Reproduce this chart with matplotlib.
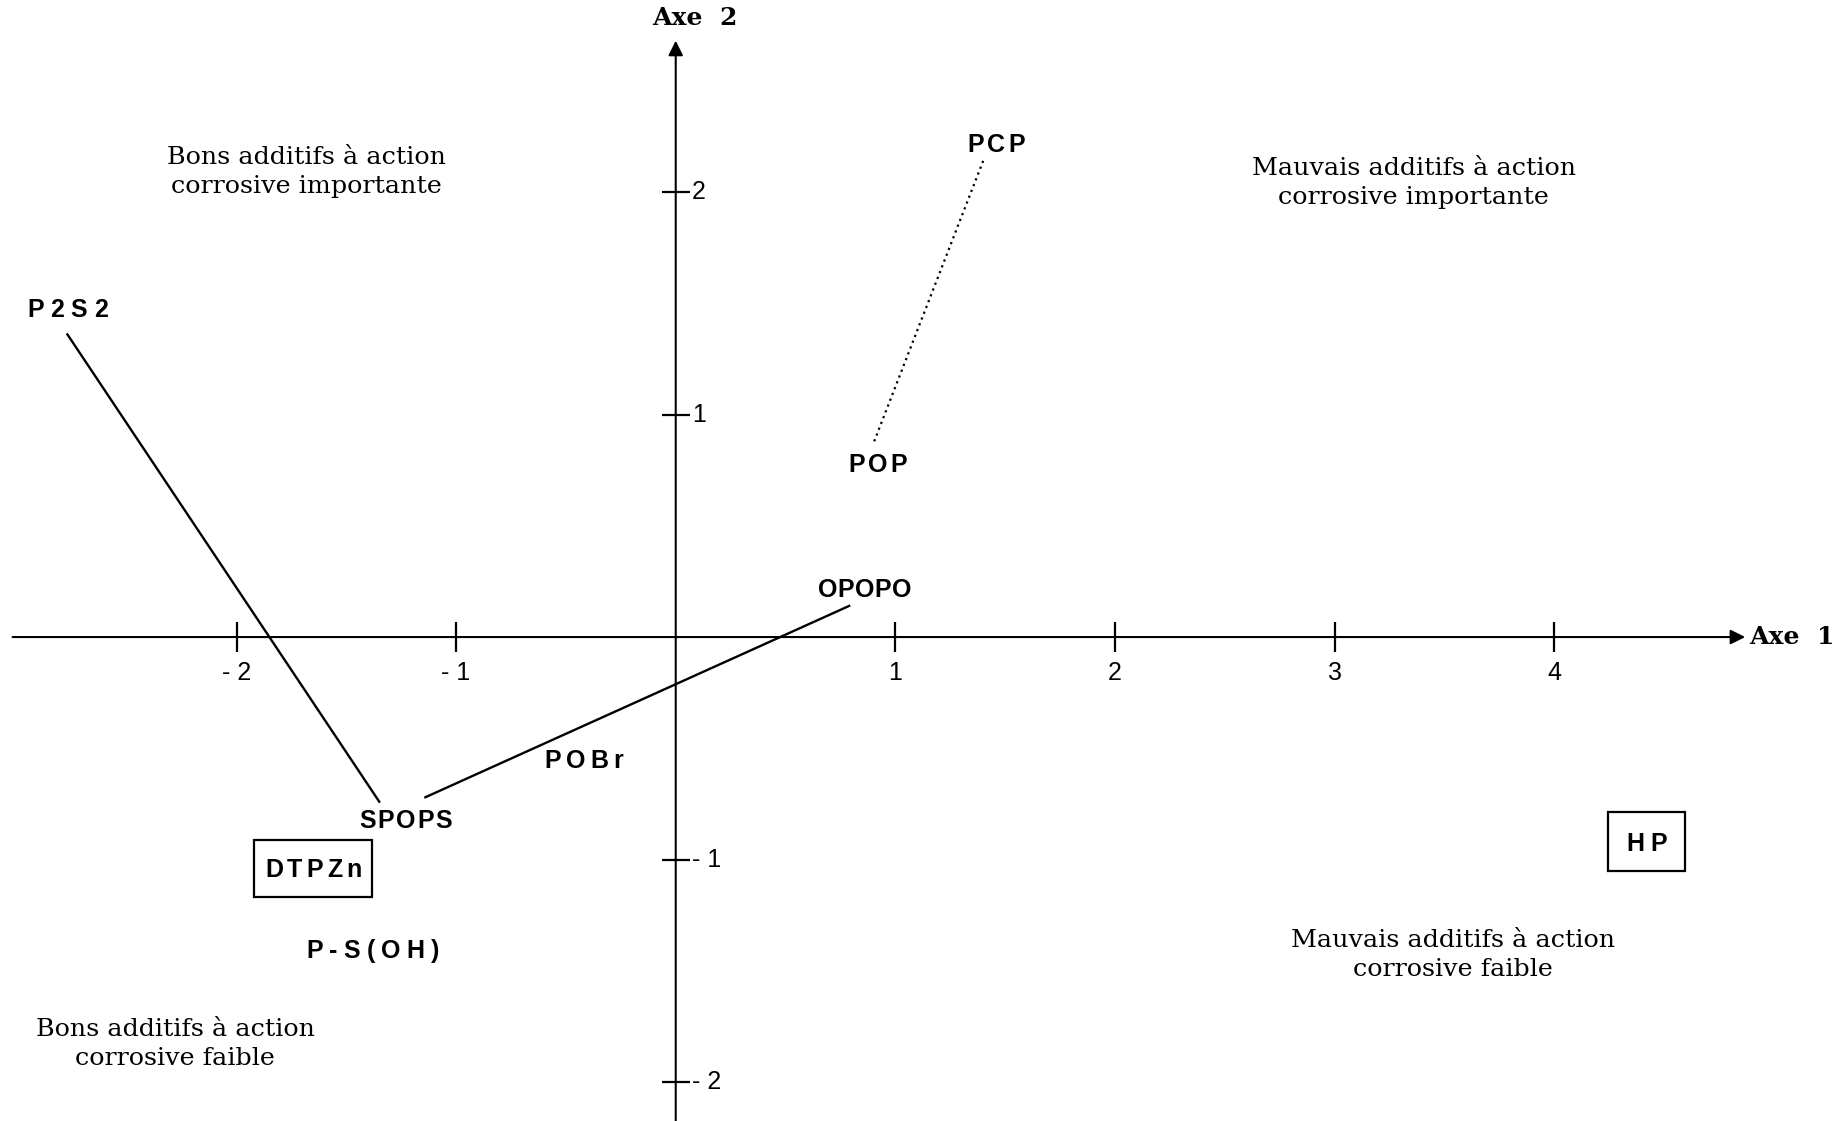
import matplotlib
matplotlib.use("Agg")
import matplotlib.pyplot as plt
from matplotlib.patches import Rectangle
from matplotlib.font_manager import FontProperties
from matplotlib.textpath import TextToPath
from matplotlib.transforms import offset_copy

# ---------------- data ----------------
point_names = ["PCP", "POP", "P2S2", "SPOPS", "OPOPO", "POBr", "DTPZn", "P-S(OH)", "HP"]
point_x = [1.46, 0.92, -2.77, -1.23, 0.86, -0.42, -1.65, -1.38, 4.42]
point_y = [2.22, 0.78, 1.48, -0.82, 0.22, -0.55, -1.04, -1.40, -0.92]
boxed = ["DTPZn", "HP"]

# connecting segments (x0, x1), (y0, y1)
seg_solid_1_x = [-2.77, -1.35]
seg_solid_1_y = [1.36, -0.74]
seg_solid_2_x = [-1.14, 0.79]
seg_solid_2_y = [-0.72, 0.14]
seg_dotted_x = [1.40, 0.90]
seg_dotted_y = [2.14, 0.87]

x_ticks = [-2, -1, 1, 2, 3, 4]
x_tick_labels = ["- 2", "- 1", "1", "2", "3", "4"]
y_ticks = [2, 1, -1, -2]
y_tick_labels = ["2", "1", "- 1", "- 2"]

quadrant_texts = [
    "Bons additifs à action\ncorrosive importante",
    "Mauvais additifs à action\ncorrosive importante",
    "Mauvais additifs à action\ncorrosive faible",
    "Bons additifs à action\ncorrosive faible",
]
quadrant_x = [-1.68, 3.36, 3.54, -2.28]
quadrant_y = [2.09, 2.04, -1.43, -1.83]

# ---------------- styles (pixel sizes) ----------------
label_width_px = {"PCP": 58, "POP": 58, "P2S2": 81, "SPOPS": 93, "OPOPO": 93,
                  "POBr": 78, "DTPZn": 97, "P-S(OH)": 133, "HP": 41}
box_size_px = {"DTPZn": (118, 57), "HP": (77, 59)}

DPI = 100
W_PX, H_PX = 1846, 1121
XLIM = (-3.077, 5.329)
YLIM = (-2.175, 2.863)

fig = plt.figure(figsize=(W_PX / DPI, H_PX / DPI), dpi=DPI)
ax = fig.add_axes([0, 0, 1, 1])
ax.set_xlim(*XLIM)
ax.set_ylim(*YLIM)
ax.axis("off")

lw_axis = 1.5
ax.annotate("", xy=(4.87, 0), xytext=(-3.02, 0),
            arrowprops=dict(arrowstyle="-|>", lw=lw_axis, color="black",
                            mutation_scale=22, shrinkA=0, shrinkB=0))
ax.annotate("", xy=(0, 2.68), xytext=(0, -2.3),
            arrowprops=dict(arrowstyle="-|>", lw=lw_axis, color="black",
                            mutation_scale=22, shrinkA=0, shrinkB=0))

ax.plot(x_ticks, [0] * len(x_ticks), linestyle="none", marker="|",
        markersize=22, markeredgewidth=1.6, color="black")
ax.plot([0] * len(y_ticks), y_ticks, linestyle="none", marker="_",
        markersize=20, markeredgewidth=1.6, color="black")

tick_font = dict(family="Liberation Sans", fontsize=18, color="black")
for t, lab in zip(x_ticks, x_tick_labels):
    ax.text(t, -0.16, lab, ha="center", va="center", **tick_font)
for t, lab in zip(y_ticks, y_tick_labels):
    ax.text(0.075, t, lab, ha="left", va="center", **tick_font)

axe_font = dict(family="DejaVu Serif", fontweight="bold", fontsize=18, color="black")
ax.text(0.085, 2.78, "Axe  2", ha="center", va="center", **axe_font)
ax.text(4.89, 0.0, "Axe  1", ha="left", va="center", **axe_font)

ax.plot(seg_solid_1_x, seg_solid_1_y, color="black", lw=1.7)
ax.plot(seg_solid_2_x, seg_solid_2_y, color="black", lw=1.7)
ax.plot(seg_dotted_x, seg_dotted_y, color="black", lw=1.6, linestyle=(0, (1, 1.8)))

# tracked bold labels, drawn character by character
label_fs = 18
prop = FontProperties(family="Liberation Sans", weight="bold", size=label_fs)
t2p = TextToPath()
px_per_pt = DPI / 72.0


def char_width_px(ch):
    w, h, d = t2p.get_text_width_height_descent(ch, prop, ismath=False)
    return w * px_per_pt


def tracked_text(x, y, s, target_px):
    widths = [char_width_px(c) for c in s]
    gap = (target_px - sum(widths)) / max(len(s) - 1, 1)
    pos = -target_px / 2.0
    baseline_dy_pt = -0.358 * label_fs
    for c, w in zip(s, widths):
        tr = offset_copy(ax.transData, fig=fig, x=pos / px_per_pt,
                         y=baseline_dy_pt, units="points")
        ax.text(x, y, c, ha="left", va="baseline", fontproperties=prop,
                color="black", transform=tr)
        pos += w + gap


ppx = W_PX / (XLIM[1] - XLIM[0])
ppy = H_PX / (YLIM[1] - YLIM[0])
for name, x, y in zip(point_names, point_x, point_y):
    tracked_text(x, y, name, label_width_px[name])
    if name in boxed:
        bw, bh = box_size_px[name]
        ax.add_patch(Rectangle((x - bw / 2 / ppx, y - bh / 2 / ppy), bw / ppx, bh / ppy,
                               fill=False, ec="black", lw=1.6))

for txt, x, y in zip(quadrant_texts, quadrant_x, quadrant_y):
    ax.text(x, y, txt, ha="center", va="center", family="DejaVu Serif",
            fontsize=18.3, linespacing=1.35)

fig.savefig("out.png", dpi=DPI, facecolor="white")
